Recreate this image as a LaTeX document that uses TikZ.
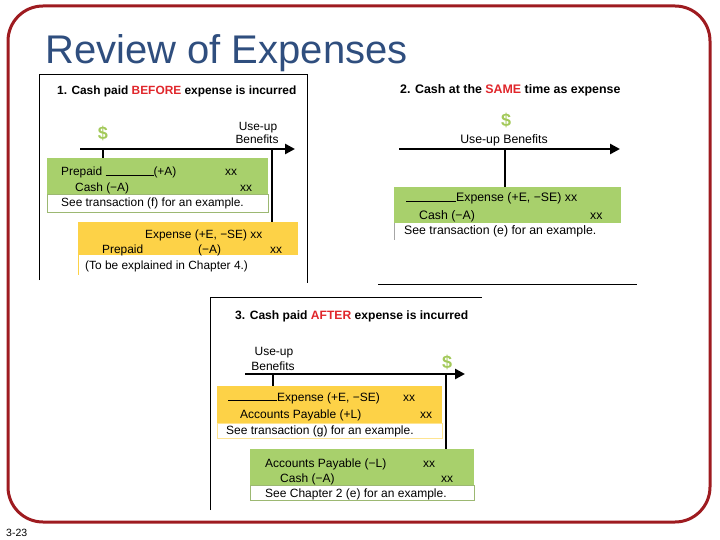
\documentclass[tikz,border=0pt]{standalone}
\usepackage{fontspec}
\setmainfont{Liberation Sans}
\usepackage{xcolor}
\usepackage{tikz}
\usetikzlibrary{positioning,arrows.meta}

\definecolor{slidered}{HTML}{9E1B20}
\definecolor{titleblue}{HTML}{2F4E7E}
\definecolor{acctgreen}{HTML}{A8D06C}
\definecolor{acctyellow}{HTML}{FDD247}
\definecolor{dollargreen}{HTML}{A3C95A}
\definecolor{hotred}{HTML}{E0262B}

\newcommand\usdfont{\fontsize{18}{18}\selectfont\bfseries}

\begin{document}
\begin{tikzpicture}[x=1pt,y=-1pt,
    gbox/.style={rectangle,fill=acctgreen,inner sep=0,anchor=north west},
    ybox/.style={rectangle,fill=acctyellow,inner sep=0,anchor=north west},
    note/.style={rectangle,draw=#1,fill=white,inner sep=0,anchor=north west,line width=0.6pt},
    entry/.style={anchor=base west,inner sep=0,font=\fontsize{#1}{14}\selectfont},
    entry/.default=11.9,
    head/.style={anchor=base west,inner sep=0,font=\fontsize{#1}{14}\selectfont\bfseries},
    head/.default=11.9,
    usd/.style={inner sep=0,font=\usdfont,text=dollargreen},
    timeline/.style={line width=2.6pt,-{Triangle[length=10pt,width=10pt]}},
    tick/.style={line width=2pt},
    frame/.style={line width=0.8pt}
]
\useasboundingbox (0,0) rectangle (720,540);
\draw[slidered,line width=3pt,rounded corners=35pt] (8,6) rectangle (710,522);

\node[anchor=base west,inner sep=0,font=\fontsize{40}{40}\selectfont,text=titleblue] (title) at (45,64) {Review of Expenses};
\node[anchor=base west,inner sep=0,font=\fontsize{10.5}{11}\selectfont] (pg) at (6,536) {3-23};

% 1. before
\draw[frame] (39,280) -- (39,74) -- (307,74) -- (307,283);
\node[head] (h1) at (57,95) {1. Cash paid \textcolor{hotred}{BEFORE} expense is incurred};
\node[usd] (d1) at (103,133) {\$};
\node[entry,anchor=base] (u1a) at (258,131) {Use-up};
\node[entry,anchor=base] (u1b) at (257,144) {Benefits};
\coordinate (t1s) at (80,149);
\coordinate (t1e) at (295,149);
\draw[timeline] (t1s) -- (t1e);

\node[gbox,minimum width=221pt,minimum height=36pt] (g1) at (47,158) {};
\node[note=acctgreen!70!gray,minimum width=221pt,minimum height=18pt] (n1) at (47,194) {};
\node[entry] (e1a) at (61,176) {Prepaid \rule{48pt}{0.6pt}(+A)};
\node[entry] (x1a) at (225,176) {xx};
\node[entry] (e1b) at (75,191.5) {Cash (−A)};
\node[entry] (x1b) at (240,191.5) {xx};
\node[entry] (e1c) at (61,207) {See transaction (f) for an example.};

\node[ybox,minimum width=220pt,minimum height=33pt] (y1) at (78,222) {};
\draw[acctyellow,line width=0.6pt] (y1.south west) -- ++(0,20);
\node[entry] (e1d) at (145,238) {Expense (+E, −SE) xx};
\node[entry] (e1e) at (102,254) {Prepaid};
\node[entry] (e1f) at (198,254) {(−A)};
\node[entry] (x1c) at (270,254) {xx};
\node[entry] (e1g) at (85,269) {(To be explained in Chapter 4.)};

\coordinate (k1a) at (103,149);
\coordinate (k1b) at (272,149);
\draw[tick] (k1a) -- (k1a |- g1.north);
\draw[tick] (k1b) -- (k1b |- y1.north);

% 2. same time
\node[head=12.4] (h2) at (400,94) {2. Cash at the \textcolor{hotred}{SAME} time as expense};
\node[usd] (d2) at (506,120) {\$};
\node[entry=12.3,anchor=base] (u2) at (504,144) {Use-up Benefits};
\coordinate (t2s) at (399,149);
\coordinate (t2e) at (620,149);
\draw[timeline] (t2s) -- (t2e);

\node[gbox,minimum width=227pt,minimum height=36pt] (g2) at (394,187) {};
\draw[gray!70,line width=0.6pt] (g2.south west) -- ++(0,17);
\node[entry=12.3] (e2a) at (406,202) {\rule{50pt}{0.6pt}Expense (+E, −SE) xx};
\node[entry=12.3] (e2b) at (419,219) {Cash (−A)};
\node[entry=12.3] (x2a) at (590,219) {xx};
\node[entry=12.3] (e2c) at (404,234) {See transaction (e) for an example.};

\coordinate (k2) at (505,149);
\draw[tick] (k2) -- (k2 |- g2.north);
\coordinate (b2s) at (378,284);
\coordinate (b2e) at (637,284);
\draw[frame] (b2s) -- (b2e);

% 3. after
\draw[frame] (210,510) -- (210,297) -- (482,297);
\node[head=12.1] (h3) at (235,319) {3. Cash paid \textcolor{hotred}{AFTER} expense is incurred};
\node[entry=12,anchor=base] (u3a) at (274,355) {Use-up};
\node[entry=12,anchor=base] (u3b) at (273,370) {Benefits};
\node[usd] (d3) at (447,362) {\$};
\coordinate (t3s) at (245,374);
\coordinate (t3e) at (465,374);
\draw[timeline] (t3s) -- (t3e);

\node[ybox,minimum width=225pt,minimum height=37pt] (y3) at (217,386) {};
\node[note=acctyellow!60,minimum width=225pt,minimum height=15pt] (n3a) at (217,423) {};
\node[entry=12] (e3a) at (228,401) {\rule{49pt}{0.6pt}Expense (+E, −SE)};
\node[entry=12] (x3a) at (403,401) {xx};
\node[entry=12] (e3b) at (240,418) {Accounts Payable (+L)};
\node[entry=12] (x3b) at (420,418) {xx};
\node[entry=12] (e3c) at (226,434) {See transaction (g) for an example.};

\node[gbox,minimum width=224pt,minimum height=36pt] (g3) at (250,449) {};
\node[note=acctgreen!70!gray,minimum width=224pt,minimum height=15pt] (n3b) at (250,485) {};
\node[entry=12] (e3d) at (265,467) {Accounts Payable (−L)};
\node[entry=12] (x3c) at (423,467) {xx};
\node[entry=12] (e3e) at (280,482) {Cash (−A)};
\node[entry=12] (x3d) at (441,482) {xx};
\node[entry=12] (e3f) at (265,497) {See Chapter 2 (e) for an example.};

\coordinate (k3a) at (273,374);
\coordinate (k3b) at (446,374);
\draw[tick] (k3a) -- (k3a |- y3.north);
\draw[tick] (k3b) -- (k3b |- g3.north);
\end{tikzpicture}
\end{document}
